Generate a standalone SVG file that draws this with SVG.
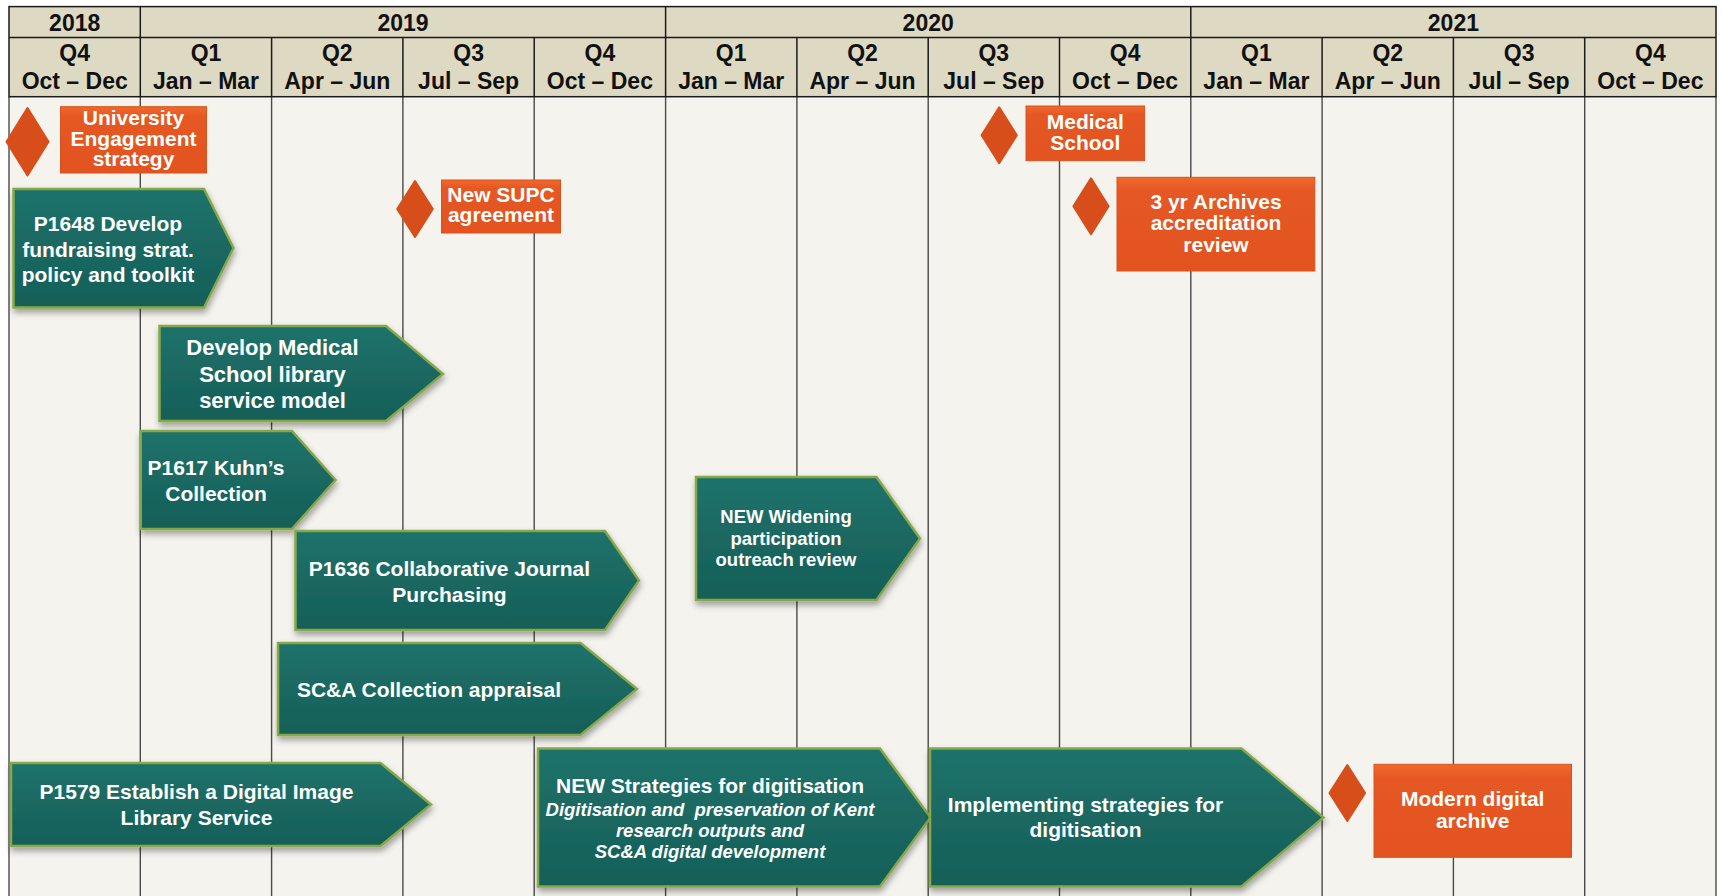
<svg xmlns="http://www.w3.org/2000/svg" width="1723" height="896" viewBox="0 0 1723 896">
<style>
.hdr{fill:#DDD9C3}
.body{fill:#F4F3ED}
.grid{stroke:#4a4a4a;stroke-width:1.4;fill:none}
.hline{stroke:#1a1a1a;stroke-width:1.5;fill:none}
.ht{font-family:"Liberation Sans",Arial,sans-serif;font-weight:bold;font-size:23px;fill:#111;text-anchor:middle}
.arrow{fill:url(#gGreen);stroke:#86A84A;stroke-width:2.5;stroke-linejoin:miter;filter:url(#shadow)}
.box{fill:url(#gOrange);stroke:#D9531E;stroke-width:1}
.dia{fill:#D84E1B;stroke:#D84E1B;stroke-width:2;stroke-linejoin:round}
.t{font-family:"Liberation Sans",Arial,sans-serif;font-weight:bold;font-size:21px;fill:#fff;text-anchor:middle}
.t22{font-size:22px}
.ts{font-size:18.5px}
.ti{font-style:italic;font-size:18.5px}
</style>
<defs>
<linearGradient id="gGreen" x1="0" y1="0" x2="0" y2="1">
<stop offset="0" stop-color="#1F736B"/>
<stop offset="0.5" stop-color="#1A6861"/>
<stop offset="1" stop-color="#175F58"/>
</linearGradient>
<linearGradient id="gOrange" x1="0" y1="0" x2="0" y2="1">
<stop offset="0" stop-color="#F0682C"/>
<stop offset="0.15" stop-color="#E65823"/>
<stop offset="1" stop-color="#E2531F"/>
</linearGradient>
<filter id="shadow" x="-10%" y="-10%" width="125%" height="130%">
<feDropShadow dx="1" dy="4" stdDeviation="3" flood-color="#000" flood-opacity="0.35"/>
</filter>
</defs>

<g id="table">
<rect class="body" x="9" y="96.7" width="1707" height="800"/>
<rect class="hdr" x="9" y="6.6" width="1707" height="90.1"/>
<g class="grid">
<line x1="140.3" y1="96.7" x2="140.3" y2="896"/>
<line x1="271.6" y1="96.7" x2="271.6" y2="896"/>
<line x1="402.9" y1="96.7" x2="402.9" y2="896"/>
<line x1="534.2" y1="96.7" x2="534.2" y2="896"/>
<line x1="665.6" y1="96.7" x2="665.6" y2="896"/>
<line x1="796.9" y1="96.7" x2="796.9" y2="896"/>
<line x1="928.2" y1="96.7" x2="928.2" y2="896"/>
<line x1="1059.5" y1="96.7" x2="1059.5" y2="896"/>
<line x1="1190.8" y1="96.7" x2="1190.8" y2="896"/>
<line x1="1322.1" y1="96.7" x2="1322.1" y2="896"/>
<line x1="1453.4" y1="96.7" x2="1453.4" y2="896"/>
<line x1="1584.7" y1="96.7" x2="1584.7" y2="896"/>
<line x1="9" y1="96.7" x2="9" y2="896"/>
<line x1="1716" y1="96.7" x2="1716" y2="896"/>
</g>
<g class="hline">
<rect x="9" y="6.6" width="1707" height="90.1"/>
<line x1="9" y1="37.4" x2="1716" y2="37.4"/>
<line x1="140.3" y1="6.6" x2="140.3" y2="96.7"/>
<line x1="665.6" y1="6.6" x2="665.6" y2="96.7"/>
<line x1="1190.8" y1="6.6" x2="1190.8" y2="96.7"/>
<line x1="271.6" y1="37.4" x2="271.6" y2="96.7"/>
<line x1="402.9" y1="37.4" x2="402.9" y2="96.7"/>
<line x1="534.2" y1="37.4" x2="534.2" y2="96.7"/>
<line x1="796.9" y1="37.4" x2="796.9" y2="96.7"/>
<line x1="928.2" y1="37.4" x2="928.2" y2="96.7"/>
<line x1="1059.5" y1="37.4" x2="1059.5" y2="96.7"/>
<line x1="1322.1" y1="37.4" x2="1322.1" y2="96.7"/>
<line x1="1453.4" y1="37.4" x2="1453.4" y2="96.7"/>
<line x1="1584.7" y1="37.4" x2="1584.7" y2="96.7"/>
</g>
<g class="ht">
<text x="74.7" y="30.5">2018</text>
<text x="403" y="30.5">2019</text>
<text x="928.2" y="30.5">2020</text>
<text x="1453.4" y="30.5">2021</text>
<text x="74.7" y="61">Q4</text><text x="74.7" y="89">Oct – Dec</text>
<text x="206" y="61">Q1</text><text x="206" y="89">Jan – Mar</text>
<text x="337.3" y="61">Q2</text><text x="337.3" y="89">Apr – Jun</text>
<text x="468.6" y="61">Q3</text><text x="468.6" y="89">Jul – Sep</text>
<text x="599.9" y="61">Q4</text><text x="599.9" y="89">Oct – Dec</text>
<text x="731.2" y="61">Q1</text><text x="731.2" y="89">Jan – Mar</text>
<text x="862.5" y="61">Q2</text><text x="862.5" y="89">Apr – Jun</text>
<text x="993.8" y="61">Q3</text><text x="993.8" y="89">Jul – Sep</text>
<text x="1125.1" y="61">Q4</text><text x="1125.1" y="89">Oct – Dec</text>
<text x="1256.4" y="61">Q1</text><text x="1256.4" y="89">Jan – Mar</text>
<text x="1387.8" y="61">Q2</text><text x="1387.8" y="89">Apr – Jun</text>
<text x="1519.1" y="61">Q3</text><text x="1519.1" y="89">Jul – Sep</text>
<text x="1650.4" y="61">Q4</text><text x="1650.4" y="89">Oct – Dec</text>
</g>
</g>

<g id="connectors"></g>

<g id="m-university">
<polygon class="dia" points="27.5,108 48.5,141.8 27.5,175.5 6.5,141.8"/>
<rect class="box" x="60.5" y="106.7" width="146" height="66.3"/>
<text class="t" x="133.5" y="124.5">University</text>
<text class="t" x="133.5" y="145.5">Engagement</text>
<text class="t" x="133.5" y="166">strategy</text>
</g>

<g id="m-supc">
<polygon class="dia" points="415,181 432.8,209 415,237 397.2,209"/>
<rect class="box" x="441.5" y="180" width="119" height="53"/>
<text class="t" x="501" y="201.5">New SUPC</text>
<text class="t" x="501" y="222">agreement</text>
</g>

<g id="m-medical">
<polygon class="dia" points="999.2,107.3 1016.8,135.3 999.2,163.3 981.6,135.3"/>
<rect class="box" x="1026" y="106" width="118.6" height="54.7"/>
<text class="t" x="1085.3" y="128.5">Medical</text>
<text class="t" x="1085.3" y="150">School</text>
</g>

<g id="m-archives">
<polygon class="dia" points="1091,178.3 1108.6,206.3 1091,234.3 1073.4,206.3"/>
<rect class="box" x="1117" y="177.3" width="197.8" height="93.7"/>
<text class="t" x="1216" y="208.5">3 yr Archives</text>
<text class="t" x="1216" y="230">accreditation</text>
<text class="t" x="1216" y="252">review</text>
</g>

<g id="m-modern">
<polygon class="dia" points="1347.3,765 1365.1,793 1347.3,821 1329.5,793"/>
<rect class="box" x="1374" y="764.3" width="197.5" height="93"/>
<text class="t" x="1472.7" y="806">Modern digital</text>
<text class="t" x="1472.7" y="827.5">archive</text>
</g>

<g id="p1648">
<polygon class="arrow" points="13.5,189 204,189 233.5,248 204,307.5 13.5,307.5"/>
<text class="t" x="108" y="230.7">P1648 Develop</text>
<text class="t" x="108" y="256.5">fundraising strat.</text>
<text class="t" x="108" y="281.7">policy and toolkit</text>
</g>

<g id="devmed">
<polygon class="arrow" points="159.5,326 386,326 443,374 386,421 159.5,421"/>
<text class="t t22" x="272.5" y="355">Develop Medical</text>
<text class="t t22" x="272.5" y="381.7">School library</text>
<text class="t t22" x="272.5" y="408.3">service model</text>
</g>

<g id="p1617">
<polygon class="arrow" points="140.7,431 292,431 335.5,480 292,529 140.7,529"/>
<text class="t" x="216" y="475">P1617 Kuhn’s</text>
<text class="t" x="216" y="501">Collection</text>
</g>

<g id="p1636">
<polygon class="arrow" points="295.5,531 605,531 639,580.5 605,630 295.5,630"/>
<text class="t" x="449.5" y="576">P1636 Collaborative Journal</text>
<text class="t" x="449.5" y="601.7">Purchasing</text>
</g>

<g id="scna">
<polygon class="arrow" points="278,643 580.5,643 637,689 580.5,735 278,735"/>
<text class="t" x="429" y="696.5">SC&amp;A Collection appraisal</text>
</g>

<g id="widening">
<polygon class="arrow" points="696,477 876.5,477 920,538.5 876.5,600 696,600"/>
<text class="t ts" x="786" y="522.7">NEW Widening</text>
<text class="t ts" x="786" y="544.5">participation</text>
<text class="t ts" x="786" y="566">outreach review</text>
</g>

<g id="p1579">
<polygon class="arrow" points="11,763 380.5,763 431,804.5 380.5,846 11,846"/>
<text class="t" x="196.5" y="798.5">P1579 Establish a Digital Image</text>
<text class="t" x="196.5" y="825">Library Service</text>
</g>

<g id="newstrat">
<polygon class="arrow" points="538,748.5 880,748.5 930.5,817.5 880,886.5 538,886.5"/>
<text class="t" x="710" y="793.3">NEW Strategies for digitisation</text>
<text class="t ti" x="710" y="816">Digitisation and&#160; preservation of Kent</text>
<text class="t ti" x="710" y="837">research outputs and</text>
<text class="t ti" x="710" y="858.3">SC&amp;A digital development</text>
</g>

<g id="implementing">
<polygon class="arrow" points="930,748.5 1241.5,748.5 1323.5,817.5 1241.5,886.5 930,886.5"/>
<text class="t" x="1085.5" y="812">Implementing strategies for</text>
<text class="t" x="1085.5" y="836.5">digitisation</text>
</g>
</svg>
